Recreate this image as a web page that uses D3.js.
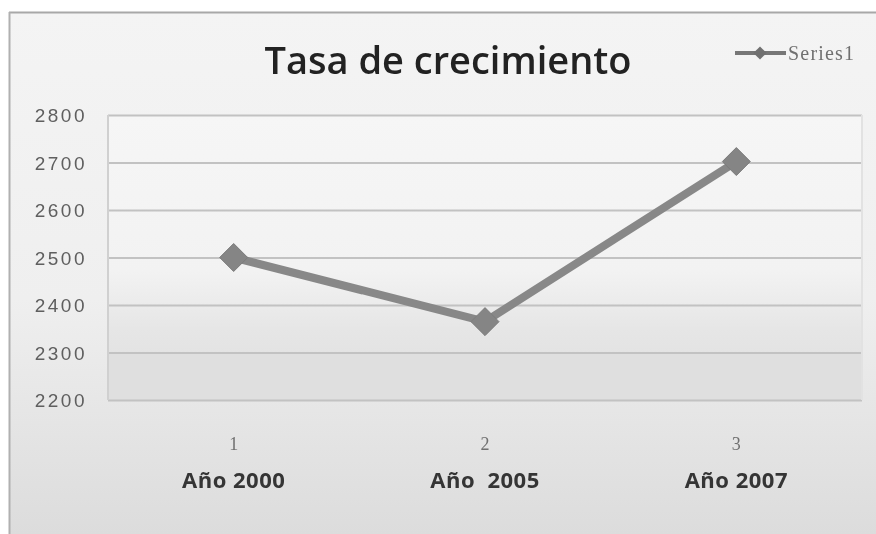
<!DOCTYPE html>
<html><head><meta charset="utf-8">
<script src="https://cdn.jsdelivr.net/npm/d3@7"></script>
<style>html,body{margin:0;padding:0;background:#fff;}svg{display:block;}</style>
</head><body>
<svg id="c" width="876" height="534"></svg>
<script>
const categories = ["1", "2", "3"];
const categoryNames = ["Año 2000", "Año  2005", "Año 2007"];
const seriesName = "Series1";
const values = [2500, 2365, 2702];
const yTicks = [2200, 2300, 2400, 2500, 2600, 2700, 2800];
const title = "Tasa de crecimiento";

const svg = d3.select("#c");
const W = 876, H = 534;
const defs = svg.append("defs");
const bg = defs.append("linearGradient").attr("id","bg").attr("x1",0).attr("y1",0).attr("x2",0).attr("y2",1);
bg.append("stop").attr("offset","0%").attr("stop-color","#f4f4f4");
bg.append("stop").attr("offset","55%").attr("stop-color","#efefef");
bg.append("stop").attr("offset","100%").attr("stop-color","#dcdcdc");
const pg = defs.append("linearGradient").attr("id","pg").attr("x1",0).attr("y1",0).attr("x2",0).attr("y2",1);
pg.append("stop").attr("offset","0%").attr("stop-color","#f6f6f6");
pg.append("stop").attr("offset","55%").attr("stop-color","#f2f2f2");
pg.append("stop").attr("offset","75%").attr("stop-color","#e6e6e6");
pg.append("stop").attr("offset","100%").attr("stop-color","#dedede");
const f = defs.append("filter").attr("id","blur").attr("x","-20%").attr("y","-20%").attr("width","140%").attr("height","140%");
f.append("feGaussianBlur").attr("stdDeviation",0.6);

// outer chart area
svg.append("rect").attr("x",9).attr("y",12).attr("width",W-9).attr("height",H-12).attr("fill","url(#bg)");
svg.append("line").attr("x1",9).attr("x2",W).attr("y1",12.5).attr("y2",12.5).attr("stroke","#a8a8a8").attr("stroke-width",2);
svg.append("line").attr("x1",9.5).attr("x2",9.5).attr("y1",12).attr("y2",H).attr("stroke","#b0b0b0").attr("stroke-width",2);

const m = {left:108, right:862, top:115, bottom:400};
const x = d3.scaleBand().domain(categories).range([m.left, m.right]);
const y = d3.scaleLinear().domain([2200, 2800]).range([m.bottom, m.top]);

const g = svg.append("g").attr("filter","url(#blur)");
g.append("rect").attr("x",m.left).attr("y",m.top).attr("width",m.right-m.left).attr("height",m.bottom-m.top).attr("fill","url(#pg)");
g.append("rect").attr("x",m.left).attr("y",y(2300)).attr("width",m.right-m.left).attr("height",y(2200)-y(2300)).attr("fill","#dfdfdf");

// gridlines
g.append("g").attr("transform",`translate(${m.left},0)`)
  .call(d3.axisLeft(y).tickValues(yTicks).tickSize(-(m.right-m.left)).tickFormat(""))
  .call(a=>a.select(".domain").remove())
  .call(a=>a.selectAll("line").attr("stroke","#c2c2c2").attr("stroke-width",2));
g.append("line").attr("x1",m.left).attr("x2",m.left).attr("y1",m.top).attr("y2",m.bottom).attr("stroke","#d0d0d0").attr("stroke-width",2);
g.append("line").attr("x1",m.right).attr("x2",m.right).attr("y1",m.top).attr("y2",m.bottom).attr("stroke","#e2e2e2").attr("stroke-width",2);

// y labels
g.append("g").attr("transform",`translate(85,0)`)
  .call(d3.axisLeft(y).tickValues(yTicks).tickSize(0).tickFormat(d=>d))
  .call(a=>a.select(".domain").remove())
  .call(a=>a.selectAll("text").attr("font-family","'Liberation Sans', 'Open Sans', sans-serif").style("font-size","19px").attr("letter-spacing","2.5").attr("fill","#5e5e5e").attr("x",2).attr("dy","0.36em"));

// x labels
const xa = g.append("g").attr("transform",`translate(0,${m.bottom})`)
  .call(d3.axisBottom(x).tickSize(0).tickFormat(d=>d))
  .call(a=>a.select(".domain").remove());
xa.selectAll("text").attr("font-family","'Liberation Serif', 'DejaVu Serif', serif").style("font-size","18px").attr("fill","#707070").attr("dy",0).attr("y",50);
xa.selectAll(".tick").append("text").text((d,i)=>categoryNames[i]).attr("y",88).attr("text-anchor","middle")
  .attr("font-family","'Open Sans', 'Liberation Sans', sans-serif").attr("font-weight","bold").style("font-size","22px").attr("letter-spacing","0.5").attr("fill","#353535").style("white-space","pre").attr("xml:space","preserve");

// line
const line = d3.line().x((d,i)=>x(categories[i])+x.bandwidth()/2).y(d=>y(d));
g.append("path").datum(values).attr("d",line).attr("fill","none").attr("stroke","#888").attr("stroke-width",8).attr("stroke-linejoin","round");
g.selectAll(".mk").data(values).join("path").attr("class","mk")
  .attr("d",d3.symbol(d3.symbolDiamond2,500))
  .attr("transform",(d,i)=>`translate(${x(categories[i])+x.bandwidth()/2},${y(d)})`)
  .attr("fill","#858585").attr("stroke","#7c7c7c").attr("stroke-width",1);

// title
g.append("text").attr("x",448).attr("y",74).attr("text-anchor","middle").text(title)
  .attr("font-family","'Open Sans', 'Liberation Sans', sans-serif").attr("font-weight","600").style("font-size","38px").attr("fill","#222");

// legend
const lg = g.append("g");
lg.append("line").attr("x1",735).attr("x2",786).attr("y1",53).attr("y2",53).attr("stroke","#777").attr("stroke-width",4);
lg.append("path").attr("d",d3.symbol(d3.symbolDiamond2,110)).attr("transform","translate(760,53)").attr("fill","#707070");
lg.append("text").attr("x",788).attr("y",60).text(seriesName).attr("font-family","'Liberation Serif', 'DejaVu Serif', serif").style("font-size","20px").attr("letter-spacing","1.2").attr("fill","#707070");
</script>
</body></html>
